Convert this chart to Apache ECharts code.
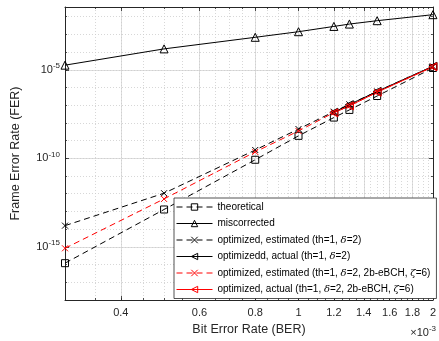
<!DOCTYPE html>
<html>
<head>
<meta charset="utf-8">
<script src="https://cdn.jsdelivr.net/npm/echarts@6/dist/echarts.min.js"></script>
<style>
  html, body { margin: 0; padding: 0; background: #fff; }
  #chart { width: 439px; height: 341px; }
</style>
</head>
<body>
<div id="chart"></div>
<script>
// BER in units of 1e-3
const ber = [0.3, 0.5, 0.8, 1.0, 1.2, 1.3, 1.5, 2.0];
const berActual = [1.2, 1.3, 1.5, 2.0];

const theoretical = [1.2e-16, 1.29e-13, 8.3e-11, 1.86e-9, 2.0e-8, 5.4e-8, 3.3e-7, 1.26e-5];
const miscorrected = [1.82e-5, 1.51e-4, 6.8e-4, 1.41e-3, 2.8e-3, 3.8e-3, 5.9e-3, 1.29e-2];
const optEstimated = [1.58e-14, 1.07e-12, 2.95e-10, 4.5e-9, 4.3e-8, 1.12e-7, 6.0e-7, 1.55e-5];
const optActual = [4.0e-8, 1.07e-7, 6.0e-7, 1.58e-5];
const ebchEstimated = [8.3e-16, 5.1e-13, 2.3e-10, 3.5e-9, 3.8e-8, 9.1e-8, 5.5e-7, 1.48e-5];
const ebchActual = [3.7e-8, 9.1e-8, 5.4e-7, 1.48e-5];

const xMajor = [0.4, 0.6, 0.8, 1, 1.2, 1.4, 1.6, 1.8, 2];
const xMinor = [];
for (let k = 6; k <= 40; k++) xMinor.push(Math.round(k * 5) / 100);
const yMajor = [1e-15, 1e-10, 1e-5];
const yMinor = [];
for (let e = -18; e <= -2; e++) yMinor.push(Math.pow(10, e));

const names = [
  'theoretical',
  'miscorrected',
  'optimized, estimated (th=1, δ=2)',
  'optimizedd, actual (th=1, δ=2)',
  'optimized, estimated (th=1, δ=2, 2b-eBCH, ζ=6)',
  'optimized, actual (th=1, δ=2, 2b-eBCH, ζ=6)'
];

const FONT = '"Liberation Sans", Arial, sans-serif';
const INK = '#262626';
const CROSS = 'path://M0,0L10,10M10,0L0,10';
const LTRI = 'path://M0,5L10,0L10,10Z';

const pairs = (xs, ys) => xs.map((x, i) => [x, ys[i]]);

function line(name, xs, ys, color, dashed, symbol, size) {
  return {
    name, type: 'line', xAxisIndex: 0, yAxisIndex: 0,
    data: pairs(xs, ys),
    symbol, symbolSize: size,
    lineStyle: { color, width: 1, type: dashed ? [6, 4] : 'solid' },
    itemStyle: { color: 'rgba(0,0,0,0)', borderColor: color, borderWidth: 1 },
    emphasis: { disabled: true },
    z: 3
  };
}

function xAx(position, values, isMajor) {
  return {
    type: 'log', position, min: 0.3, max: 2, gridIndex: 0,
    axisLine: { show: isMajor, onZero: false, lineStyle: { color: INK, width: 1 } },
    axisTick: { show: true, inside: true, length: isMajor ? 4 : 2, customValues: values,
      lineStyle: { color: INK, width: 0.8 } },
    axisLabel: {
      show: isMajor && position === 'bottom', customValues: xMajor, margin: 7,
      color: INK, fontSize: 11, fontFamily: FONT,
      formatter: (v) => String(+v.toFixed(1))
    },
    splitLine: {
      show: position === 'bottom',
      lineStyle: isMajor ? { color: '#dedede', width: 1 } : { color: '#cdcdcd', width: 0.8, type: [1, 2] }
    },
    minorTick: { show: false }
  };
}

function yAx(position, values, isMajor) {
  return {
    type: 'log', position, min: 1e-18, max: 0.035, gridIndex: 0,
    axisLine: { show: isMajor, onZero: false, lineStyle: { color: INK, width: 1 } },
    axisTick: { show: true, inside: true, length: isMajor ? 4 : 2, customValues: values,
      lineStyle: { color: INK, width: 0.8 } },
    axisLabel: {
      show: isMajor && position === 'left', customValues: yMajor, margin: 5,
      color: INK, fontSize: 11, fontFamily: FONT,
      formatter: (v) => '10{sup|' + Math.round(Math.log10(v)) + '}',
      rich: { sup: { fontSize: 8, color: INK, fontFamily: FONT, padding: [0, 0, 8, 0] } }
    },
    splitLine: {
      show: position === 'left',
      lineStyle: isMajor ? { color: '#dedede', width: 1 } : { color: '#cdcdcd', width: 0.8, type: [1, 2] }
    }
  };
}

const xAxes = [xAx('bottom', xMajor, true), xAx('bottom', xMinor, false), xAx('top', xMajor, true), xAx('top', xMinor, false)];
xAxes[0].name = 'Bit Error Rate (BER)';
xAxes[0].nameLocation = 'middle';
xAxes[0].nameGap = 23;
xAxes[0].nameTextStyle = { color: INK, fontSize: 12.5, fontFamily: FONT };

const yAxes = [yAx('left', yMajor, true), yAx('left', yMinor, false), yAx('right', yMajor, true), yAx('right', yMinor, false)];
yAxes[0].name = 'Frame Error Rate (FER)';
yAxes[0].nameLocation = 'middle';
yAxes[0].nameGap = 43;
yAxes[0].nameTextStyle = { color: INK, fontSize: 12.5, fontFamily: FONT };

const chart = echarts.init(document.getElementById('chart'), null, { renderer: 'canvas' });
chart.setOption({
  animation: false,
  backgroundColor: '#fff',
  grid: { left: 65, right: 1.5, top: 7, bottom: 40, containLabel: false },
  xAxis: xAxes,
  yAxis: yAxes,
  legend: {
    orient: 'vertical', left: 174, top: 198,
    backgroundColor: '#fff', borderColor: INK, borderWidth: 0.8,
    padding: [4, 6, 4, 2], itemGap: 6.5, itemWidth: 36, itemHeight: 8,
    selectedMode: false,
    itemStyle: { color: 'rgba(0,0,0,0)', borderColor: 'inherit', borderWidth: 1 },
    lineStyle: { width: 1 },
    textStyle: {
      color: '#000', fontSize: 10, fontFamily: FONT,
      rich: { g: { fontSize: 10, fontStyle: 'italic', fontFamily: '"DejaVu Serif", serif', color: '#000' } }
    },
    formatter: (n) => n.replace(/([δζ])/g, '{g|$1}'),
    data: names
  },
  graphic: [{
    type: 'text', right: 3, top: 325,
    style: {
      text: '×10{sup|-3}', fill: INK, font: '11px ' + FONT,
      rich: { sup: { fontSize: 8, fontFamily: FONT, fill: INK, padding: [0, 0, 8, 0] } }
    }
  }],
  series: [
    line(names[0], ber, theoretical, '#000', true, 'rect', 7),
    line(names[1], ber, miscorrected, '#000', false, 'triangle', 8),
    line(names[2], ber, optEstimated, '#000', true, CROSS, 6),
    line(names[3], berActual, optActual, '#000', false, LTRI, 8),
    line(names[4], ber, ebchEstimated, '#ff0000', true, CROSS, 6),
    line(names[5], berActual, ebchActual, '#ff0000', false, LTRI, 8)
  ]
});
</script>
</body>
</html>
